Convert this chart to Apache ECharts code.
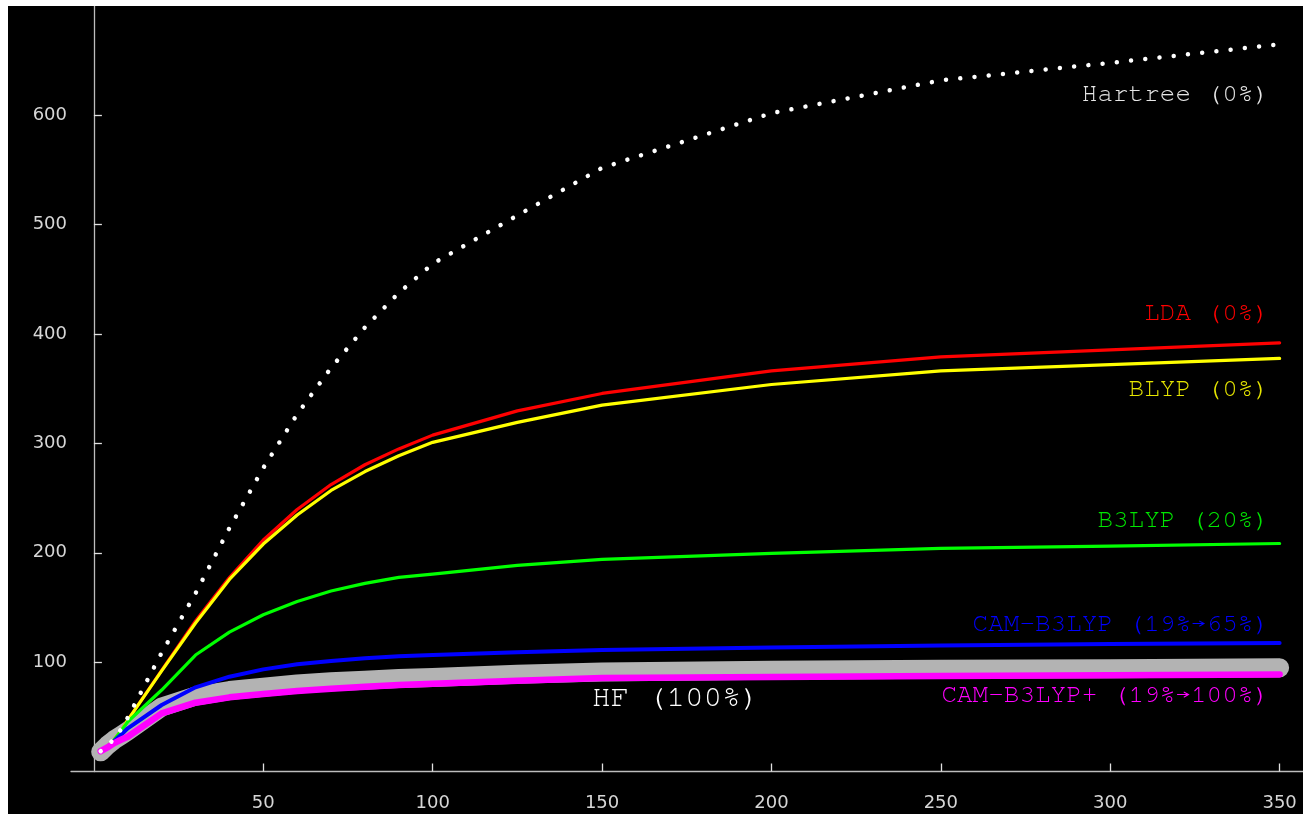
<!DOCTYPE html>
<html>
<head>
<meta charset="utf-8">
<script src="https://cdn.jsdelivr.net/npm/echarts@6/dist/echarts.min.js"></script>
<style>
  html, body { margin: 0; padding: 0; background: #ffffff; }
  #chart { position: absolute; left: 8px; top: 6px; width: 1295px; height: 808px; background: #000; }
</style>
</head>
<body>
<div id="chart"></div>
<script>
// x positions (chain length)
const xs = [2, 4, 6, 8, 10, 20, 30, 40, 50, 60, 70, 80, 90, 100, 125, 150, 200, 250, 300, 350];
const hartree   = [18.6, 23.5, 30, 38.5, 49.3, 108.6, 162.9, 222.6, 277.6, 326.7, 369.1, 406.1, 437.7, 464.3, 508.5, 552, 602, 632, 648, 665];
const lda       = [18, 23, 29, 37, 47, 92.5, 137.6, 177.4, 211.7, 239.6, 262.4, 280.5, 295, 307.6, 329.8, 345.7, 366.4, 379.2, 385.5, 392];
const blyp      = [18, 23, 29, 37, 47, 92, 135.8, 175.6, 208, 234.5, 257, 274.3, 288.8, 301, 319.2, 335, 353.9, 366.4, 372, 377.7];
const b3lyp     = [18, 23, 29, 37, 45.5, 74.5, 106.5, 127.5, 143.3, 155.5, 165, 172, 177.5, 180.5, 188.5, 194, 199.4, 204, 206, 208.5];
const camb3lyp  = [18, 22.5, 28, 33.5, 39.5, 60.8, 77, 86.7, 93.4, 98, 101, 103.5, 105.3, 106.5, 109, 111, 113.5, 115.3, 116.5, 117.5];
const hf        = [18, 24, 29, 33, 37, 59, 69, 74, 77, 80, 82, 83.5, 85, 86, 89, 91, 92.5, 93.5, 94, 94.8];
const camplus   = [18.6, 22, 26, 29, 31.8, 53.2, 62.9, 67.8, 70.8, 73.6, 75.7, 77.5, 79, 80.2, 83, 85.5, 86.4, 87.3, 88, 88.8];

const xTicks = [50, 100, 150, 200, 250, 300, 350];
const yTicks = [100, 200, 300, 400, 500, 600];

const labels = [
  { text: 'Hartree (0%)', color: '#e6e6e6' },
  { text: 'LDA (0%)', color: '#ff0000' },
  { text: 'BLYP (0%)', color: '#e6e600' },
  { text: 'B3LYP (20%)', color: '#00e600' },
  { text: 'CAM-B3LYP (19%\u219265%)', color: '#0000ff' },
  { text: 'CAM-B3LYP+ (19%\u2192100%)', color: '#ff00ff' },
  { text: 'HF (100%)', color: '#ffffff' }
];

function pairs(ys) { return xs.map((x, i) => [x, ys[i]]); }

const chart = echarts.init(document.getElementById('chart'), null, { renderer: 'canvas' });

const labelFont = '"Nimbus Mono PS", "Nimbus Mono L", FreeMono, "Courier 10 Pitch", "Courier New", Courier, "Liberation Mono", monospace';
const tickFont = { color: '#d6d6d6', fontSize: 18, fontFamily: 'DejaVu Sans', fontWeight: 'normal' };
function lineSeries(name, ys, color, width, extra) {
  return Object.assign({
    name: name, type: 'line', data: pairs(ys), symbol: 'none', silent: true,
    lineStyle: { color: color, width: width, cap: 'round', join: 'round' },
    animation: false
  }, extra || {});
}

chart.setOption({
  backgroundColor: '#000000',
  animation: false,
  grid: { left: 63, right: 0, top: 0, bottom: 42.5, containLabel: false },
  xAxis: {
    type: 'value', min: -6.76, max: 356.9,
    axisLine: { onZero: true, lineStyle: { color: '#bdbdbd', width: 1.3 } },
    axisTick: { inside: true, length: 8, customValues: xTicks, lineStyle: { color: '#e0e0e0', width: 1.3 } },
    axisLabel: Object.assign({ customValues: xTicks, margin: 23 }, tickFont),
    splitLine: { show: false }
  },
  yAxis: {
    type: 'value', min: 0, max: 700,
    axisLine: { show: true, onZero: true, lineStyle: { color: '#bdbdbd', width: 1.3 } },
    axisTick: { show: true, inside: true, length: 8, customValues: yTicks, lineStyle: { color: '#e0e0e0', width: 1.3 } },
    axisLabel: Object.assign({ customValues: yTicks, margin: 4 }, tickFont),
    splitLine: { show: false }
  },
  series: [
    lineSeries('HF', hf, '#b3b3b3', 19, { z: 1 }),
    lineSeries('LDA', lda, '#ff0000', 3.2, { z: 2 }),
    lineSeries('BLYP', blyp, '#ffff00', 3.2, { z: 3 }),
    lineSeries('B3LYP', b3lyp, '#00ff00', 3.2, { z: 4 }),
    lineSeries('CAM-B3LYP', camb3lyp, '#0000ff', 4, { z: 5 }),
    lineSeries('CAM-B3LYP+', camplus, '#ff00ff', 6.5, { z: 6 }),
    lineSeries('Hartree', hartree, '#ffffff', 4.5, { z: 7, lineStyle: { color: '#ffffff', width: 4.5, type: [0.01, 14.3], cap: 'round' } })
  ],
  graphic: [
    { type: 'text', right: 34, top: 74.5, style: { text: labels[0].text, fill: labels[0].color, font: '26px ' + labelFont } },
    { type: 'text', right: 34, top: 293, style: { text: labels[1].text, fill: labels[1].color, font: '26px ' + labelFont } },
    { type: 'text', right: 34, top: 369.5, style: { text: labels[2].text, fill: labels[2].color, font: '26px ' + labelFont } },
    { type: 'text', right: 34, top: 500.5, style: { text: labels[3].text, fill: labels[3].color, font: '26px ' + labelFont } },
    { type: 'text', right: 34, top: 604.5, style: { text: labels[4].text, fill: labels[4].color, font: '26px ' + labelFont } },
    { type: 'text', right: 34, top: 675.5, style: { text: labels[5].text, fill: labels[5].color, font: '26px ' + labelFont } },
    { type: 'text', left: 584, top: 675, style: { text: labels[6].text, fill: labels[6].color, font: '31px ' + labelFont } }
  ]
});
</script>
</body>
</html>
